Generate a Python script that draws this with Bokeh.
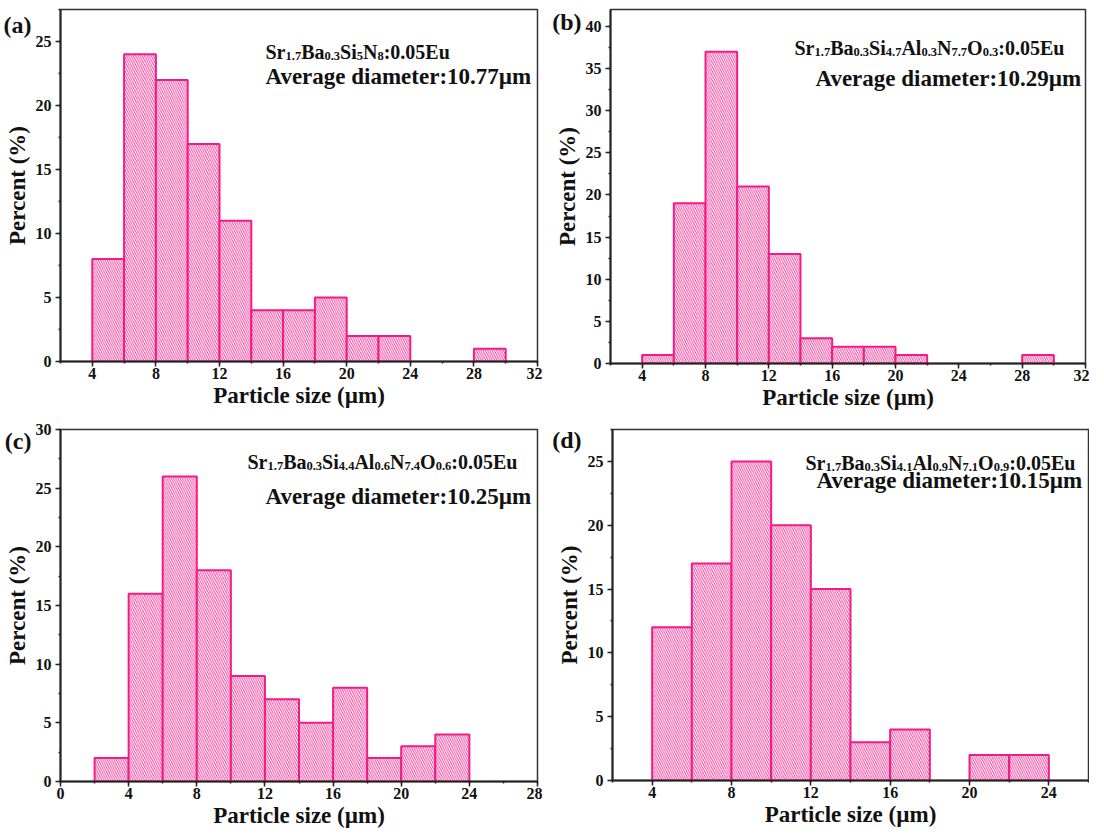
from bokeh.plotting import figure
from bokeh.models import Range1d, SingleIntervalTicker, Label, FixedTicker, LinearAxis
from bokeh.layouts import column, row
from bokeh.embed import file_html
from bokeh.resources import INLINE

# ---------------- data ----------------
bin_width = 2
a_left = [4, 6, 8, 10, 12, 14, 16, 18, 20, 22, 28]
a_pct = [8, 24, 22, 17, 11, 4, 4, 5, 2, 2, 1]
b_left = [4, 6, 8, 10, 12, 14, 16, 18, 20, 28]
b_pct = [1, 19, 37, 21, 13, 3, 2, 2, 1, 1]
c_left = [2, 4, 6, 8, 10, 12, 14, 16, 18, 20, 22]
c_pct = [2, 16, 26, 18, 9, 7, 5, 8, 2, 3, 4]
d_left = [4, 6, 8, 10, 12, 14, 16, 20, 22]
d_pct = [12, 17, 25, 20, 15, 3, 4, 2, 2]

panel_tags = ["(a)", "(b)", "(c)", "(d)"]
avg_diameters = ["10.77", "10.29", "10.25", "10.15"]
a_formula = [("Sr", "1.7"), ("Ba", "0.3"), ("Si", "5"), ("N", "8"), (":0.05Eu", "")]
b_formula = [("Sr", "1.7"), ("Ba", "0.3"), ("Si", "4.7"), ("Al", "0.3"), ("N", "7.7"), ("O", "0.3"), (":0.05Eu", "")]
c_formula = [("Sr", "1.7"), ("Ba", "0.3"), ("Si", "4.4"), ("Al", "0.6"), ("N", "7.4"), ("O", "0.6"), (":0.05Eu", "")]
d_formula = [("Sr", "1.7"), ("Ba", "0.3"), ("Si", "4.1"), ("Al", "0.9"), ("N", "7.1"), ("O", "0.9"), (":0.05Eu", "")]

x_label = "Particle size (µm)"
y_label = "Percent (%)"

# ---------------- style ----------------
PINK = "#F01C88"
FONT = "Liberation Serif"
MAIN_PX = 20.0
SUB_PX = 12.5
SUB_DROP = 4

ADV = {'S': 556, 'r': 444, 'B': 667, 'a': 500, 'i': 278, 'N': 722, 'A': 722,
       'l': 278, 'O': 778, 'E': 667, 'u': 556, ':': 333, '.': 250}
for dgt in "0123456789":
    ADV[dgt] = 500


def text_w(s, px):
    return sum(ADV.get(ch, 500) for ch in s) * px / 1000.0


def make_panel(left, pct, xr, yr, y_interval, tag, formula, avg, geom, txt):
    L, R, T, B, fw, fh = geom
    p = figure(width=L + fw + R, height=T + fh + B,
               min_border_left=L, min_border_right=R, min_border_top=T, min_border_bottom=B,
               x_range=Range1d(*xr), y_range=Range1d(*yr),
               output_backend="svg", toolbar_location=None)
    rights = [v + bin_width for v in left]
    p.quad(left=left, right=rights, bottom=0, top=pct,
           fill_color="white", line_color=PINK, line_width=2,
           hatch_pattern="left_diagonal_line", hatch_color=PINK,
           hatch_scale=4.5, hatch_weight=0.9)

    p.xgrid.grid_line_color = None
    p.ygrid.grid_line_color = None
    p.outline_line_color = "#333333"
    p.outline_line_width = 1.5
    p.xaxis.ticker = SingleIntervalTicker(interval=4, num_minor_ticks=2)
    p.yaxis.ticker = SingleIntervalTicker(interval=y_interval, num_minor_ticks=2)
    for ax in (p.xaxis[0], p.yaxis[0]):
        ax.axis_line_width = 2
        ax.axis_line_color = "#222222"
        ax.major_tick_line_color = "#222222"
        ax.minor_tick_line_color = "#222222"
        ax.major_tick_line_width = 1.5
        ax.minor_tick_line_width = 1.5
        ax.major_tick_in = 0
        ax.major_tick_out = 5
        ax.minor_tick_in = 0
        ax.minor_tick_out = 2
        ax.major_label_text_font = FONT
        ax.major_label_text_font_style = "bold"
        ax.major_label_text_font_size = "16px"
        ax.major_label_text_color = "#111111"
        ax.axis_label_text_font = FONT
        ax.axis_label_text_font_style = "bold"
        ax.axis_label_text_font_size = "23px"
        ax.axis_label_text_color = "#111111"
    p.xaxis.axis_label = x_label
    p.yaxis.axis_label = y_label
    p.xaxis.major_label_standoff = 1
    p.yaxis.major_label_standoff = 4
    p.xaxis.axis_label_standoff = 1
    p.yaxis.axis_label_standoff = 3

    x0, y1 = xr[0], yr[1]
    tag_right, tag_mid, f_dx, f_dy, a_dx, a_dy = txt

    # panel tag: an extra, line-less left axis carrying one label
    y_tag = round(y1 - tag_mid * (yr[1] - yr[0]) / fh, 2)
    tag_axis = LinearAxis(ticker=FixedTicker(ticks=[y_tag], minor_ticks=[]),
                          major_label_overrides={y_tag: tag},
                          axis_line_color=None, major_tick_line_color=None,
                          minor_tick_line_color=None, major_tick_out=0, major_tick_in=0,
                          major_label_standoff=-tag_right,
                          major_label_text_font=FONT, major_label_text_font_style="bold",
                          major_label_text_font_size="24px", major_label_text_color="#111111")
    p.add_layout(tag_axis, "left")

    cx = f_dx
    for main, sub in formula:
        p.add_layout(Label(x=x0, y=y1, x_offset=cx, y_offset=-f_dy, text=main,
                           text_font=FONT, text_font_style="bold", text_font_size=f"{MAIN_PX}px",
                           text_baseline="alphabetic", text_color="#111111"))
        cx += text_w(main, MAIN_PX)
        if sub:
            p.add_layout(Label(x=x0, y=y1, x_offset=cx, y_offset=-(f_dy + SUB_DROP), text=sub,
                               text_font=FONT, text_font_style="bold", text_font_size=f"{SUB_PX}px",
                               text_baseline="alphabetic", text_color="#111111"))
            cx += text_w(sub, SUB_PX)
    p.add_layout(Label(x=x0, y=y1, x_offset=a_dx, y_offset=-a_dy,
                       text="Average diameter:" + avg + "µm",
                       text_font=FONT, text_font_style="bold", text_font_size="23px",
                       text_baseline="alphabetic", text_color="#111111"))
    return p


pa = make_panel(a_left, a_pct, (2, 32), (0, 27.5), 5, panel_tags[0], a_formula, avg_diameters[0],
                (60, 5, 7, 51, 477, 354), (30, 15.5, 205, 42, 205, 67))
pb = make_panel(b_left, b_pct, (2, 32), (0, 42), 5, panel_tags[1], b_formula, avg_diameters[1],
                (68, 4, 9, 51, 475, 354), (30, 13, 184, 38, 205, 69))
pc = make_panel(c_left, c_pct, (0, 28), (0, 30), 5, panel_tags[2], c_formula, avg_diameters[2],
                (60, 5, 15, 51, 477, 352), (30, 11.5, 187, 32, 205, 67))
pd = make_panel(d_left, d_pct, (2, 26), (0, 27.5), 5, panel_tags[3], d_formula, avg_diameters[3],
                (70, 1, 13, 51, 476, 353), (28, 10.5, 193, 33, 204, 51))

layout = column(row(pa, pb), row(pc, pd))
open("out.html", "w").write(file_html(layout, INLINE))
